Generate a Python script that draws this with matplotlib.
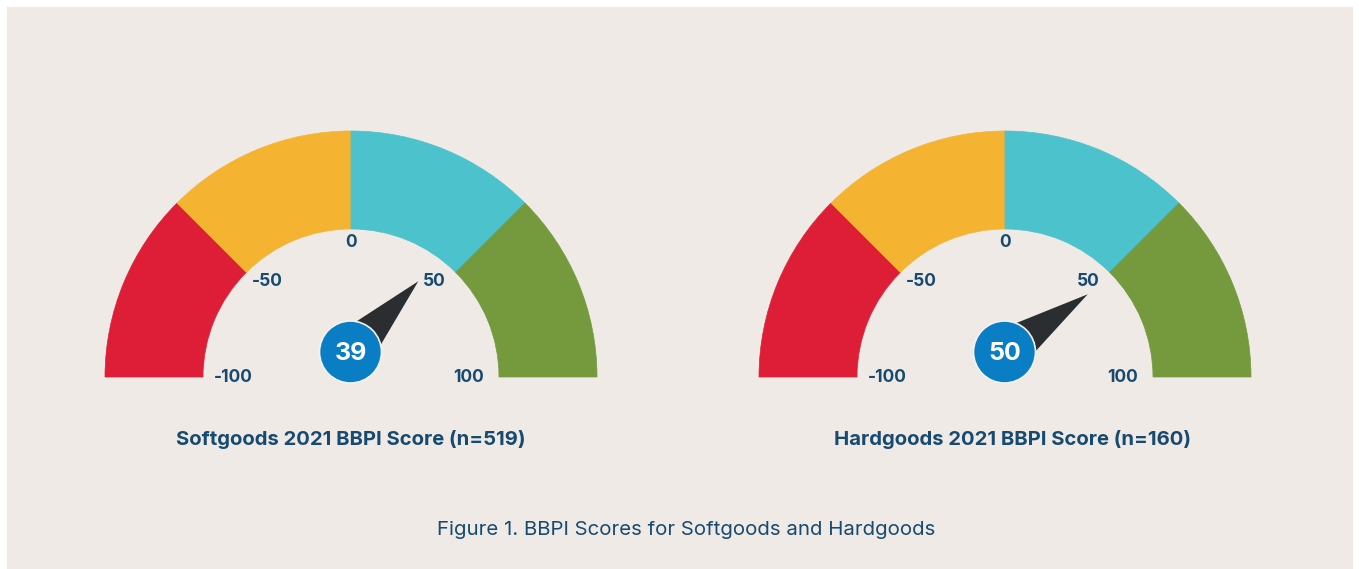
import matplotlib
matplotlib.use("Agg")
import matplotlib.pyplot as plt
import numpy as np
from matplotlib.patches import Wedge, Rectangle, Circle, Polygon

# ---- data ----
gauge_titles = ["Softgoods 2021 BBPI Score (n=519)", "Hardgoods 2021 BBPI Score (n=160)"]
gauge_values = [39, 50]
band_edges = [-100, -50, 0, 50, 100]
band_colors = ["#DD1E36", "#F5B332", "#4CC3CC", "#759A3D"]
tick_values = [-100, -50, 0, 50, 100]
tick_labels = ["-100", "-50", "0", "50", "100"]
caption = "Figure 1. BBPI Scores for Softgoods and Hardgoods"

W, H = 1359, 569
fig = plt.figure(figsize=(W / 100, H / 100), dpi=100)
ax = fig.add_axes([0, 0, 1, 1])
ax.set_xlim(0, W)
ax.set_ylim(H, 0)
ax.set_aspect("equal")
ax.axis("off")
fig.patch.set_facecolor("white")

BG = "#EFEAE6"
NAVY = "#174A70"
ax.add_patch(Rectangle((7, 7), 1346, 570, facecolor=BG, edgecolor="none", zorder=0))

centers = [(351, 377), (1005, 377)]
title_x = [351, 1013]
R_out, R_in = 246, 148


def val2ang(v):
    # -100 -> 180 deg, 100 -> 0 deg (math angle, y up)
    return 90 - v * 0.9


for (cx, cy), tx0, title, val in zip(centers, title_x, gauge_titles, gauge_values):
    # bands (y axis inverted, so use negative angles)
    for i, col in enumerate(band_colors):
        a1 = val2ang(band_edges[i])
        a2 = val2ang(band_edges[i + 1])
        ax.add_patch(Wedge((cx, cy), R_out, -a1, -a2, width=R_out - R_in,
                           facecolor=col, edgecolor=col, linewidth=0.5, zorder=1))
    # tick labels
    for tv, tl in zip(tick_values, tick_labels):
        a = np.radians(val2ang(tv))
        tx = cx + 118 * np.cos(a)
        ty = cy - 135 * np.sin(a)
        ax.text(tx, ty, tl, ha="center", va="center", fontsize=12.5,
                fontweight="bold", color=NAVY, family="Inter", zorder=3)
    # needle: tip from gauge centre, base at value circle
    a = np.radians(val2ang(val))
    L = 117
    tip = np.array([cx + L * np.cos(a), cy - L * np.sin(a)])
    ccx, ccy = cx - 0.5, cy - 25
    base = np.array([ccx, ccy])
    d = tip - base
    d = d / np.hypot(*d)
    perp = np.array([-d[1], d[0]])
    hw = 23
    ax.add_patch(Polygon([tip, base + hw * perp, base - hw * perp], closed=True,
                         facecolor="#2B2E31", edgecolor="none", zorder=4))
    # value circle
    ax.add_patch(Circle((ccx, ccy), 31, facecolor="#0A7EC5", edgecolor="#F5F2EE",
                        linewidth=1.2, zorder=5))
    ax.text(ccx, ccy + 1, str(val), ha="center", va="center", fontsize=18,
            fontweight="bold", color="white", family="Inter", zorder=6)
    # title
    ax.text(tx0, 439, title, ha="center", va="center", fontsize=14.6,
            fontweight="bold", color=NAVY, family="Inter", zorder=3)

ax.text(686, 530, caption, ha="center", va="center", fontsize=14.7,
        color=NAVY, family="Inter", zorder=3)

fig.savefig("out.png", dpi=100, facecolor="white")
